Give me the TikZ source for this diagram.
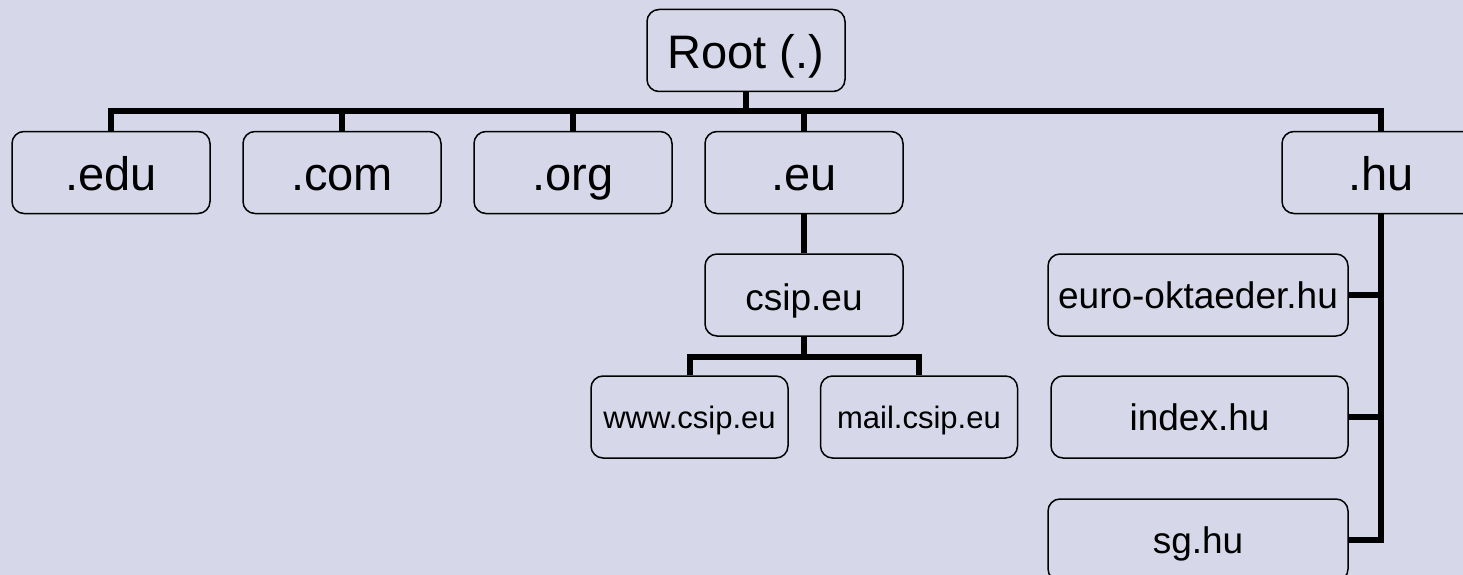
\documentclass[tikz,border=0pt]{standalone}
\usepackage{fontspec}
\setmainfont{Liberation Sans}
\definecolor{bg}{RGB}{214,215,232}
\tikzset{
  box/.style={draw, rounded corners=12pt, line width=1.5pt, fill=bg,
    inner sep=0pt, minimum height=82pt, text depth=0pt},
  tld/.style={box, minimum width=198pt, text height=36pt, font=\fontsize{47}{50}\selectfont},
  dom/.style={box, minimum width=198pt, text height=30pt, font=\fontsize{37}{40}\selectfont},
  host/.style={box, minimum width=197pt, text height=23pt, font=\fontsize{31}{34}\selectfont},
  hudom/.style={box, minimum width=300pt, text height=27pt, font=\fontsize{37}{40}\selectfont},
  conn/.style={line width=6pt},
}
\begin{document}
\begin{tikzpicture}[x=1pt,y=-1pt]
      \useasboundingbox (0,0) rectangle (1463,575);
      \fill[bg] (0,0) rectangle (1463,575);
      \draw
        (746,50.5) node[tld] (root){Root (.)}
        (111,172.5) node[tld] (edu){.edu}
        (342,172.5) node[tld] (com){.com}
        (573,172.5) node[tld] (org){.org}
        (804,172.5) node[tld] (eu){.eu}
        (1381,172.5) node[tld] (hu){.hu}
        (804,295) node[dom] (csip){csip.eu}
        (689.5,417) node[host] (www){www.csip.eu}
        (919,417) node[host] (mail){mail.csip.eu}
        (1198,295) node[hudom] (okt){euro-oktaeder.hu}
        (1199.5,417) node[hudom,minimum width=297pt] (index){index.hu}
        (1198,540) node[hudom] (sg){sg.hu};
      \begin{scope}[conn]
        \draw (root.south) -- ++(0,19) -| (edu.north);
        \draw (root.south) -- ++(0,19) -| (com.north);
        \draw (root.south) -- ++(0,19) -| (org.north);
        \draw (root.south) -- ++(0,19) -| (eu.north);
        \draw (root.south) -- ++(0,19) -| (hu.north);
        \draw (eu) to (csip);
        \draw (csip.south) -- ++(0,20) -| (www.north);
        \draw (csip.south) -- ++(0,20) -| (mail.north);
        \draw (hu.south) |- (okt.east);
        \draw (hu.south) |- (index.east);
        \draw (hu.south) |- (sg.east);
      \end{scope}
    \end{tikzpicture}
\end{document}
